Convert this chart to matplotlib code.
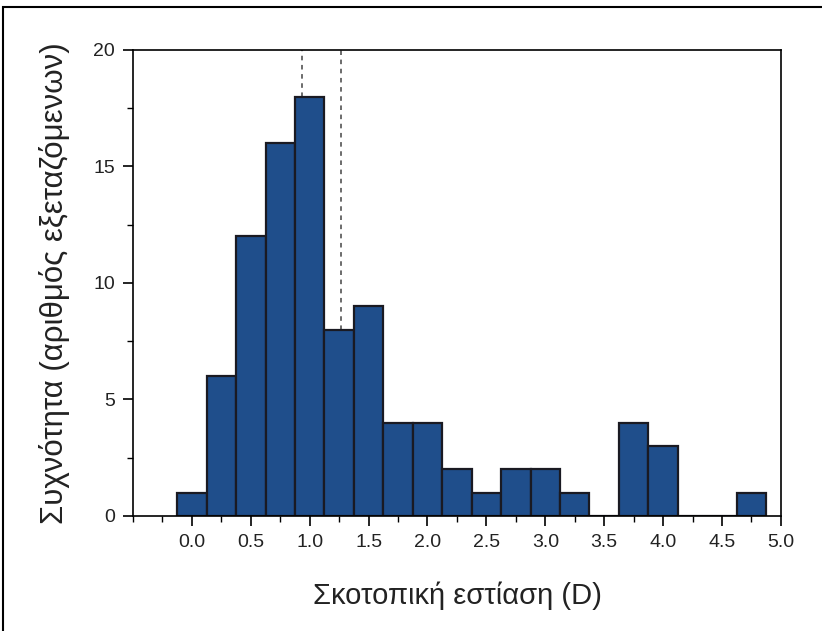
import numpy as np
import matplotlib.pyplot as plt
from matplotlib.ticker import MultipleLocator
from matplotlib.patches import Rectangle

plt.rcParams['font.family'] = ['Liberation Sans', 'DejaVu Sans']

# κέντρα των κλάσεων (D) και συχνότητες
bin_centers = np.arange(0.0, 5.0, 0.25)
counts = [1, 6, 12, 16, 18, 8, 9, 4, 4, 2, 1, 2, 2, 1, 0, 4, 3, 0, 0, 1]
# θέσεις των διακεκομμένων γραμμών
ref_lines = [0.935, 1.267]

fig = plt.figure(figsize=(8.22, 6.31), dpi=100)
ax = fig.add_axes([0.1618, 0.1823, 0.7882, 0.7385])

ax.bar(bin_centers, counts, width=0.25, color='#1f4e8b', edgecolor='#1a1a22',
       linewidth=1.6, zorder=2)

# διακεκομμένες γραμμές από την κορυφή της στήλης ως το 20
for xv in ref_lines:
    idx = int(round(xv / 0.25))
    ax.plot([xv, xv], [counts[idx], 20], linestyle=(0, (3, 3)), color='#444444',
            linewidth=1.1, zorder=1)

ax.set_xlim(-0.5, 5.0)
ax.set_ylim(0, 20)
ax.xaxis.set_minor_locator(MultipleLocator(0.25))
ax.yaxis.set_major_locator(MultipleLocator(5))
ax.yaxis.set_minor_locator(MultipleLocator(2.5))
ax.set_xticks(np.arange(0, 5.01, 0.5))
ax.set_xticklabels(['%.1f' % v for v in np.arange(0, 5.01, 0.5)])

ax.tick_params(which='major', direction='out', length=7, width=1.2, labelsize=14,
               pad=6, labelcolor='#222222')
ax.tick_params(which='minor', direction='out', length=4, width=1.0)
for s in ax.spines.values():
    s.set_linewidth(1.2)

ax.set_xlabel('Σκοτοπική εστίαση (D)', fontsize=21, labelpad=22, color='#222222')
ax.set_ylabel('Συχνότητα (αριθμός εξεταζόμενων)', fontsize=22.5, labelpad=17,
              color='#222222')

# εξωτερικό πλαίσιο
fig.patches.append(Rectangle((0.004, -0.05), 1.5, 1.039, transform=fig.transFigure,
                             fill=False, edgecolor='black', linewidth=1.5))

fig.savefig('out.png', dpi=100)
